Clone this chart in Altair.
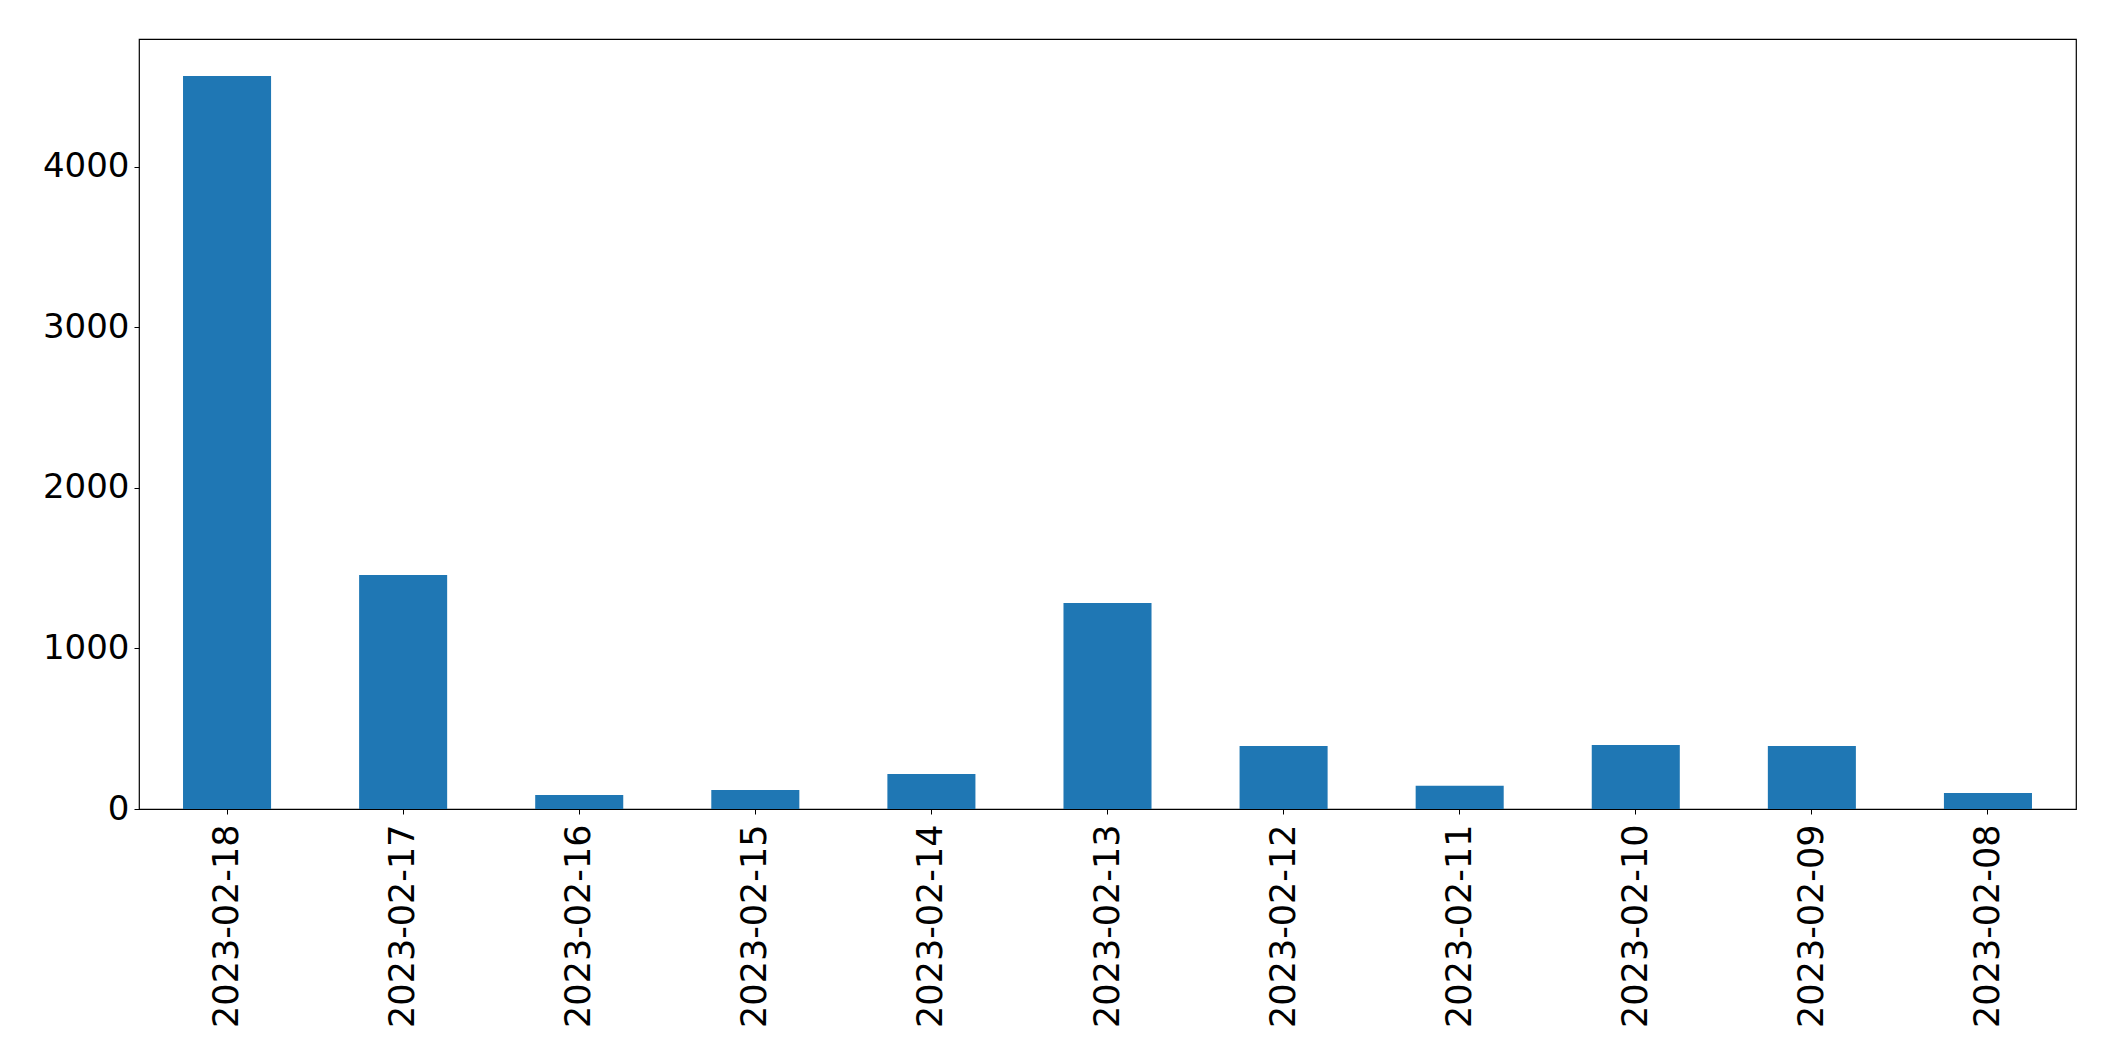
import altair as alt
import pandas as pd

dates = ["2023-02-18", "2023-02-17", "2023-02-16", "2023-02-15", "2023-02-14",
         "2023-02-13", "2023-02-12", "2023-02-11", "2023-02-10", "2023-02-09",
         "2023-02-08"]
counts = [4565, 1457, 87, 118, 218, 1283, 392, 145, 399, 392, 100]

df = pd.DataFrame({"date": dates, "count": counts})

chart = alt.Chart(df).mark_bar(color="#1f77b4").encode(
    x=alt.X("date:N", sort=None, title=None,
            scale=alt.Scale(paddingInner=0.5, paddingOuter=0.25),
            axis=alt.Axis(labelAngle=-90, labelFont="DejaVu Sans", labelFontSize=35,
                          labelColor="black", tickColor="black", tickSize=5,
                          labelPadding=10, domain=False, grid=False, labelLimit=0,
                          labelAlign="right", labelBaseline="middle")),
    y=alt.Y("count:Q", title=None,
            scale=alt.Scale(domain=[0, 4795], nice=False, zero=True),
            axis=alt.Axis(values=[0, 1000, 2000, 3000, 4000], format="d",
                          labelFont="DejaVu Sans", labelLimit=0,
                          labelFontSize=34, labelColor="black", tickColor="black",
                          tickSize=5, labelPadding=5, domain=False, grid=False)),
).properties(
    width=1937, height=770,
    autosize=alt.AutoSizeParams(type="none"),
    padding={"left": 131, "top": 31, "right": 30, "bottom": 240},
    background="white",
).configure_view(
    stroke="black", strokeWidth=1.2
)

chart.save("out.html", embed_options={"renderer": "svg", "actions": False})
